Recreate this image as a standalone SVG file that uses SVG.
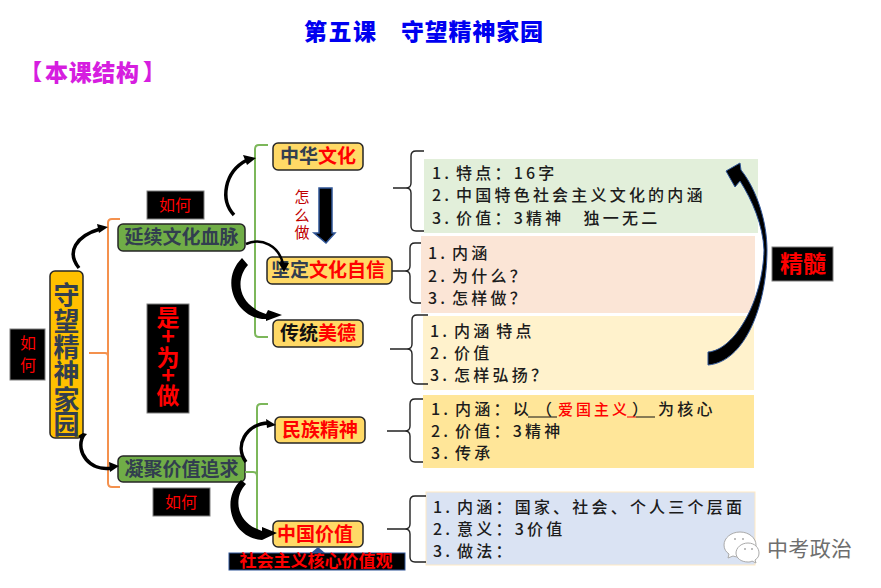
<svg xmlns="http://www.w3.org/2000/svg" width="881" height="588" viewBox="0 0 881 588">
<style>
text{font-family:"Noto Sans CJK SC","Noto Sans",sans-serif}
.n{stroke:#262626;stroke-width:1.5}
.gold{fill:#ffd966}
.green{fill:#70ad47}
.t{font-weight:700;font-size:19px;text-anchor:middle;fill:#323e4f}
.r{fill:#f00}
.b{font-size:16px;font-weight:500;fill:#1c1c1c;letter-spacing:3.2px;word-spacing:-3px}
.blk{fill:#000;stroke:#7f7f7f;stroke-width:1}
.k{fill:#f00;font-size:16px;text-anchor:middle}
.br{fill:none;stroke:#222;stroke-width:1.4}
.og{fill:none;stroke:#f4914e;stroke-width:2}
.gn{fill:none;stroke:#7cb75a;stroke-width:2}
.a{fill:none;stroke:#000;stroke-linecap:butt}
</style>
<rect width="881" height="588" fill="#fff"/>
<text x="304" y="40" font-size="23" font-weight="900" fill="#0000f0" textLength="72">第五课</text>
<text x="401" y="40" font-size="23" font-weight="900" fill="#0000f0" textLength="142">守望精神家园</text>
<text x="45" y="81" font-size="23" font-weight="900" fill="#d61ee0" textLength="94">本课结构</text>
<text x="20" y="79" font-size="22" font-weight="900" fill="#d61ee0">【</text>
<text x="143" y="79" font-size="22" font-weight="900" fill="#d61ee0">】</text>

<g id="panels">
<rect x="424" y="159" width="334" height="74" fill="#e2efda"/>
<rect x="421" y="236" width="334" height="77" fill="#fbe5d6"/>
<rect x="423" y="316" width="331" height="74" fill="#fff2cc"/>
<rect x="423" y="395" width="331" height="73" fill="#ffe699"/>
<rect x="426" y="492" width="329" height="73" fill="#dae3f3" stroke="#ffe9c4"/>
</g>

<g id="n-root"><rect class="n" x="50" y="271" width="33" height="167" rx="5" fill="#ffc000"/>
<text class="t" style="font-size:26px"><tspan x="66.500" y="305">守</tspan><tspan x="66.500" y="331">望</tspan><tspan x="66.500" y="357">精</tspan><tspan x="66.500" y="383">神</tspan><tspan x="66.500" y="409">家</tspan><tspan x="66.500" y="434">园</tspan></text></g>
<g id="n-how1"><rect class="blk" x="10" y="329" width="35" height="51"/><text class="k"><tspan x="28" y="349">如</tspan><tspan x="28" y="371">何</tspan></text></g>
<g id="n-how2"><rect class="blk" x="147" y="191" width="57" height="28"/><text class="k" x="175" y="211">如何</text></g>
<g id="n-how3"><rect class="blk" x="153" y="488" width="57" height="28"/><text class="k" x="181" y="508">如何</text></g>
<g id="n-shi"><rect class="blk" x="147" y="304" width="42" height="109"/>
<text style="font-size:23px;font-weight:700;text-anchor:middle" fill="#f00"><tspan x="168" y="326">是</tspan><tspan x="168" y="345">+</tspan><tspan x="168" y="366">为</tspan><tspan x="168" y="384">+</tspan><tspan x="168" y="404">做</tspan></text></g>
<g id="n-xm"><rect class="n green" x="118" y="224" width="127" height="27" rx="5"/><text class="t" x="181.500" y="244">延续文化血脉</text></g>
<g id="n-nj"><rect class="n green" x="118" y="456" width="127" height="26" rx="5"/><text class="t" x="181.500" y="476">凝聚价值追求</text></g>
<g id="n-zh"><rect class="n gold" x="273" y="143" width="90" height="27" rx="5"/><text class="t" x="318" y="163">中华<tspan class="r">文化</tspan></text></g>
<g id="n-jd"><rect class="n gold" x="267" y="257" width="125" height="27" rx="5"/><text class="t" x="328" y="277">坚定<tspan class="r">文化自信</tspan></text></g>
<g id="n-ct"><rect class="n gold" x="273" y="320" width="90" height="27" rx="5"/><text class="t" x="318" y="340" style="fill:#111">传统<tspan class="r">美德</tspan></text></g>
<g id="n-mz"><rect class="n gold" x="275" y="417" width="90" height="26" rx="5"/><text class="t" style="fill:#f00" x="320" y="437">民族精神</text></g>
<g id="n-zg"><rect class="n gold" x="273" y="521" width="90" height="26" rx="5"/><text class="t" style="fill:#f00" x="315" y="541">中国价值</text></g>
<g id="n-sh"><rect x="229" y="553" width="176" height="17" fill="#000" stroke="#2f5597" stroke-width="1"/><text x="316" y="567" style="font-size:17px;font-weight:700;text-anchor:middle" fill="#f00">社会主义核心价值观</text></g>
<g id="n-zm"><text style="font-size:15px;text-anchor:middle" fill="#c00000"><tspan x="302" y="202">怎</tspan><tspan x="302" y="221">么</tspan><tspan x="302" y="238">做</tspan></text></g>
<g id="n-jinsui"><rect class="blk" x="772" y="247" width="61" height="34"/><text x="803" y="272" style="font-size:23px;font-weight:700;text-anchor:middle" fill="#f00">精髓</text></g>

<g id="connectors">
<path class="og" d="M120 219H112Q108 219 108 223V483Q108 487 112 487H120M89 353H105Q108 353 108 356"/>
<path class="gn" d="M268 145H259Q255 145 255 149V333Q255 337 259 337H268"/>
<path class="gn" d="M268 404H261Q257 404 257 408V533M245 472H253Q257 472 257 476"/>
<path class="br" d="M424 151H416Q411 151 411 156V183Q411 188 406 188H393M406 188Q411 188 411 193V226Q411 231 416 231H424"/>
<path class="br" d="M421 243H415Q410 243 410 248V266Q410 271 405 271H392M405 271Q410 271 410 276V298Q410 303 415 303H421"/>
<path class="br" d="M428 315H417Q412 315 412 320V344Q412 349 407 349H390M407 349Q412 349 412 354V379Q412 384 417 384H428"/>
<path class="br" d="M423 399H415Q410 399 410 404V426Q410 431 405 431H387M405 431Q410 431 410 436V457Q410 462 415 462H423"/>
<path class="br" d="M426 496H415Q410 496 410 501V524Q410 529 405 529H387M405 529Q410 529 410 534V557Q410 562 415 562H426"/>
<path class="a" stroke-width="3.500" d="M79 268C66 252 76 236 100 229"/><path d="M108 227L97 224L99 233Z"/>
<path class="a" stroke-width="3.500" d="M234 215C220 200 224 172 247 160"/><path d="M256 158L243 155L247 165Z"/>
<path class="a" stroke-width="2.500" d="M246 244C262 237 279 246 283 264"/><path d="M284 272L278 262L289 263Z"/>
<path d="M242 258L248 265C236 278 236 304 266 314L268 310L282 315L266 321L266 319C238 320 218 282 242 258Z"/>
<path class="a" stroke-width="3.500" d="M83 436C75 452 90 472 112 468"/><path d="M119 466L109 462L110 472Z"/><path d="M87 434L82 440L78 436L83 433Z"/>
<path class="a" stroke-width="3.500" d="M246 462C234 446 246 424 268 423"/><path d="M276 425L266 419L267 428Z"/>
<path d="M241 480L246 484C234 496 234 522 262 531L262 527L277 533L262 540C232 538 220 500 241 480Z"/>
<path d="M318 547L311 553H325Z" fill="#2f5597"/>
<path d="M319 188V233H314L326 243L335 233H332V188Z" fill="#000" stroke="#2f5597" stroke-width="1.500"/>
<path d="M726 171L740 163L741 170C757 190 767 222 767 250C767 305 745 362 708 365L708 352C735 350 763 300 764 250C763 225 752 200 740 181L735 187Z" fill="#000" stroke="#2f5597"/>
</g>

<g id="p1"><text class="b" x="432" y="179">1. 特点：16字</text><text class="b" x="432" y="201">2. 中国特色社会主义文化的内涵</text><text class="b" x="432" y="224">3. 价值：3精神　独一无二</text></g>
<g id="p2"><text class="b" x="428" y="259">1. 内涵</text><text class="b" x="428" y="282">2. 为什么？</text><text class="b" x="428" y="304">3. 怎样做？</text></g>
<g id="p3"><text class="b" x="430" y="337" xml:space="preserve">1. 内涵 特点</text><text class="b" x="430" y="359">2. 价值</text><text class="b" x="430" y="381">3. 怎样弘扬？</text></g>
<g id="p4"><text class="b" x="431" y="415">1. 内涵：以</text><text class="b" x="536" y="415">（</text><text class="b" x="558" y="415" style="font-size:15px;fill:#f00;letter-spacing:3px">爱国主义</text><text class="b" x="632" y="415">）</text><text class="b" x="658" y="415">为核心</text>
<path d="M528 417H557M636 417H655" stroke="#111" fill="none"/><path d="M627 417H636" stroke="#f00" fill="none"/>
<text class="b" x="431" y="437">2. 价值：3精神</text><text class="b" x="431" y="459">3. 传承</text></g>
<g id="p5"><text class="b" x="433" y="513">1. 内涵：国家、社会、个人三个层面</text><text class="b" x="433" y="535">2. 意义：3价值</text><text class="b" x="433" y="557">3. 做法：</text></g>

<g id="watermark">
<path d="M740 532C731 532 724 538 724 545C724 549 726 552 729 554L728 558L733 556C736 557 738 557 740 557C749 557 756 551 756 545C756 538 749 532 740 532Z" fill="#fff" stroke="#aaa"/>
<path d="M748 543C741 543 736 548 736 553C736 558 741 562 748 562C749 562 751 562 752 561L756 563L755 560C758 558 759 556 759 553C759 548 755 543 748 543Z" fill="#fff" stroke="#aaa"/>
<circle cx="735" cy="539" r="1" fill="#aaa"/><circle cx="743" cy="539" r="1" fill="#aaa"/><circle cx="745" cy="549" r="1" fill="#aaa"/><circle cx="752" cy="549" r="1" fill="#aaa"/>
<text x="767" y="556" font-size="21" fill="#6e6e6e" textLength="85">中考政治</text>
</g>
</svg>
